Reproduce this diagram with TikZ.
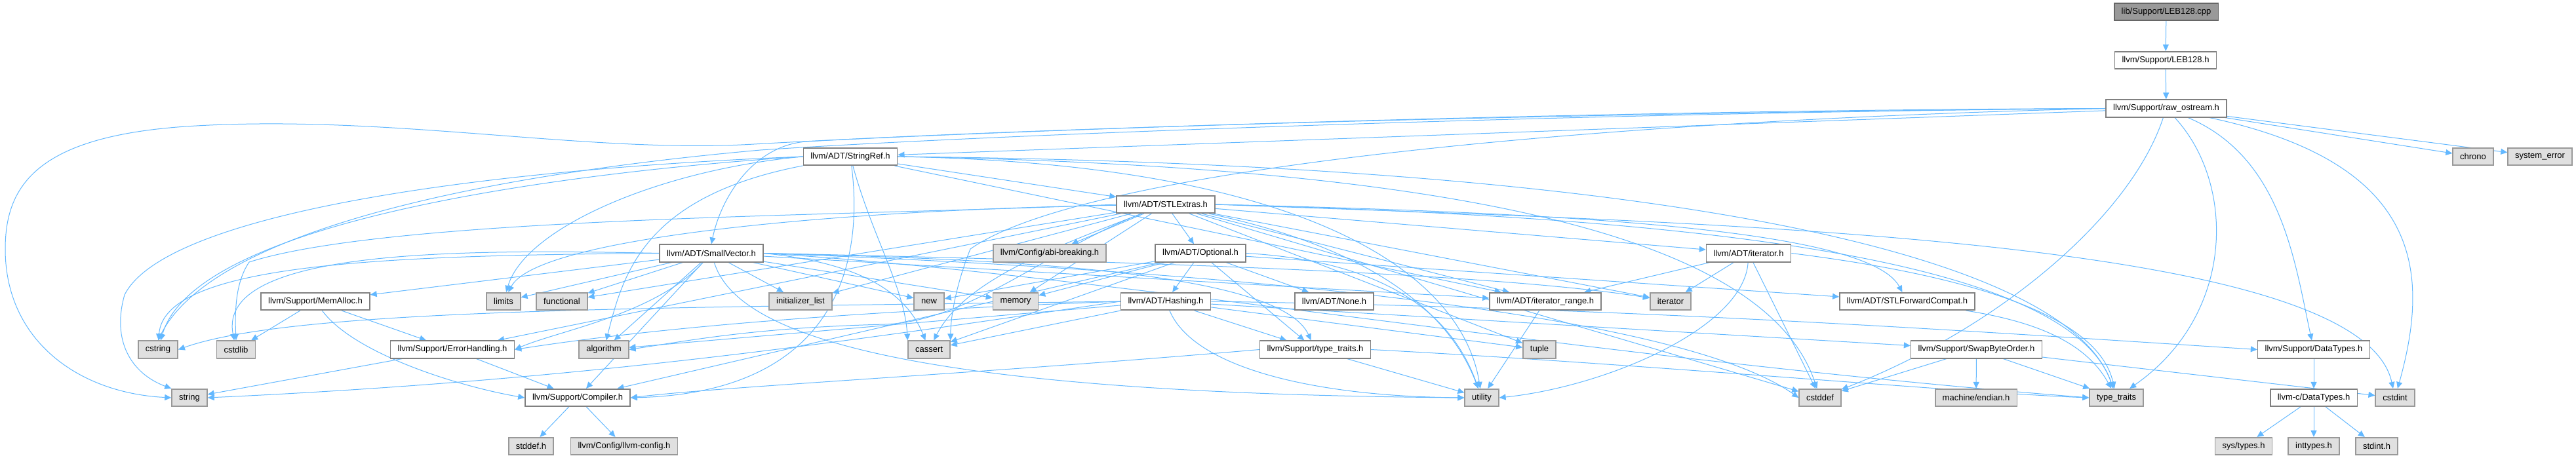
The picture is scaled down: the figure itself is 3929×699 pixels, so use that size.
\documentclass[tikz,border=0pt]{standalone}
\usepackage{fontspec}
\setmainfont{Liberation Sans}
\usepackage{tikz}
\usetikzlibrary{arrows.meta}
\definecolor{depblue}{HTML}{63B8FF}
\definecolor{hline}{HTML}{808080}
\definecolor{sysfill}{HTML}{E0E0E0}
\definecolor{sysline}{HTML}{999999}
\definecolor{mainfill}{HTML}{999999}
\definecolor{mainline}{HTML}{666666}
\pgfdeclarelayer{bg}
\pgfsetlayers{bg,main}

\begin{document}
\begin{tikzpicture}[
    x=0.5pt, y=-0.5pt,
    hbox/.style={draw=hline, fill=white, line width=0.8pt, minimum height=13.25pt,
                 inner xsep=5.5pt, inner ysep=0pt, font=\fontsize{6.5pt}{8pt}\selectfont},
    sysbox/.style={hbox, draw=sysline, fill=sysfill},
    mainbox/.style={hbox, draw=mainline, fill=mainfill},
    dep/.style={-{Triangle[length=5pt,width=4.5pt]}, depblue, line width=0.5pt}
  ]
    \useasboundingbox (0,0) rectangle (3929,699);

    \node[mainbox] (cpp) at (3304,18) {lib/Support/LEB128.cpp};
    \node[hbox] (lebh) at (3303,92) {llvm/Support/LEB128.h};
    \node[hbox] (raw) at (3304,165.5) {llvm/Support/raw\_ostream.h};
    \node[sysbox] (chrono) at (3772,239) {chrono};
    \node[sysbox] (syserr) at (3874,239) {system\_error};
    \node[hbox] (strref) at (1297,239) {llvm/ADT/StringRef.h};
    \node[hbox] (stlext) at (1778,312) {llvm/ADT/STLExtras.h};
    \node[hbox] (smallvec) at (1085,386.5) {llvm/ADT/SmallVector.h};
    \node[sysbox] (abi) at (1601,386.5) {llvm/Config/abi-breaking.h};
    \node[hbox] (optional) at (1831,386.5) {llvm/ADT/Optional.h};
    \node[hbox] (iterh) at (2667,386.5) {llvm/ADT/iterator.h};
    \node[hbox] (memalloc) at (481,460) {llvm/Support/MemAlloc.h};
    \node[sysbox] (limits) at (768,460) {limits};
    \node[sysbox] (functional) at (857,460) {functional};
    \node[sysbox] (initlist) at (1221,460) {initializer\_list};
    \node[sysbox] (new) at (1417,460) {new};
    \node[sysbox] (memory) at (1549,460) {memory};
    \node[hbox] (hashing) at (1778,460) {llvm/ADT/Hashing.h};
    \node[hbox] (none) at (2035,460) {llvm/ADT/None.h};
    \node[hbox] (itrange) at (2357,460) {llvm/ADT/iterator\_range.h};
    \node[sysbox] (iterator) at (2548,460) {iterator};
    \node[hbox] (stlfwd) at (2909,460) {llvm/ADT/STLForwardCompat.h};
    \node[sysbox] (cstring) at (241,533.5) {cstring};
    \node[sysbox] (cstdlib) at (360,533.5) {cstdlib};
    \node[hbox] (errh) at (690,533.5) {llvm/Support/ErrorHandling.h};
    \node[sysbox] (algorithm) at (921,533.5) {algorithm};
    \node[sysbox] (cassert) at (1417,533.5) {cassert};
    \node[hbox] (ttraitsh) at (2006,533.5) {llvm/Support/type\_traits.h};
    \node[sysbox] (tuple) at (2348,533.5) {tuple};
    \node[hbox] (swapbo) at (3014.5,533.5) {llvm/Support/SwapByteOrder.h};
    \node[hbox] (dtypes) at (3529,533.5) {llvm/Support/DataTypes.h};
    \node[sysbox] (string) at (289,607) {string};
    \node[hbox] (compiler) at (881,607) {llvm/Support/Compiler.h};
    \node[sysbox] (utility) at (2260,607) {utility};
    \node[sysbox] (cstddef) at (2776,607) {cstddef};
    \node[sysbox] (endian) at (3014,607) {machine/endian.h};
    \node[sysbox] (ttraits) at (3228,607) {type\_traits};
    \node[hbox] (cdtypes) at (3529,607) {llvm-c/DataTypes.h};
    \node[sysbox] (cstdint) at (3653,607) {cstdint};
    \node[sysbox] (stddefh) at (810,681) {stddef.h};
    \node[sysbox] (llvmcfg) at (952,681) {llvm/Config/llvm-config.h};
    \node[sysbox] (systypes) at (3422,681) {sys/types.h};
    \node[sysbox] (inttypes) at (3529,681) {inttypes.h};
    \node[sysbox] (stdinth) at (3625,681) {stdint.h};

    \begin{pgfonlayer}{bg}
    \draw[dep] (cpp)--(lebh); \draw[dep] (lebh)--(raw);
    \draw[dep] (raw)--(chrono); \draw[dep] (raw)--(syserr); \draw[dep] (raw)--(strref);
    \draw[dep] (raw.west) .. controls (2400,172) and (1600,195) .. (1230,216) .. controls (1150,222) and (1100,300) .. (smallvec.north);
    \draw[dep] (raw.west) .. controls (2400,168) and (1500,200) .. (1150,220) .. controls (900,235) and (600,175) .. (300,192)
               .. controls (60,205) and (8,280) .. (8,380) .. controls (8,520) and (120,600) .. (string.west);
    \draw[dep] (raw.west) .. controls (2400,172) and (1500,206) .. (1160,229) .. controls (700,270) and (320,360) .. (cstring.north);
    \draw[dep] (raw.west) .. controls (2400,185) and (1650,260) .. (1480,380) .. controls (1460,430) and (1450,480) .. (cassert.north east);
    \draw[dep] (raw) .. controls (3480,240) and (3500,400) .. (dtypes);
    \draw[dep] (raw) .. controls (3700,250) and (3705,420) .. (cstdint);
    \draw[dep] (raw) .. controls (3410,280) and (3410,480) .. (ttraits);
    \draw[dep] (raw) .. controls (3250,330) and (3050,500) .. (cstddef);

    \draw[dep] (strref)--(stlext); \draw[dep] (strref)--(itrange);
    \draw[dep] (strref) .. controls (1320,420) and (1260,600) .. (compiler.east);
    \draw[dep] (strref) .. controls (980,300) and (950,420) .. (algorithm);
    \draw[dep] (strref) .. controls (1330,360) and (1380,440) .. (cassert.north west);
    \draw[dep] (strref.east) .. controls (2300,255) and (2700,380) .. (cstddef);
    \draw[dep] (strref.east) .. controls (2500,250) and (3150,380) .. (ttraits);
    \draw[dep] (strref.east) .. controls (2000,250) and (2230,420) .. (utility);
    \draw[dep] (strref.west) .. controls (900,260) and (300,330) .. (cstring);
    \draw[dep] (strref.west) .. controls (1000,260) and (800,350) .. (limits);
    \draw[dep] (strref.west) .. controls (700,260) and (250,330) .. (190,450) .. controls (170,520) and (200,570) .. (string.north west);

    \draw[dep] (stlext)--(optional); \draw[dep] (stlext)--(abi); \draw[dep] (stlext)--(iterh);
    \draw[dep] (stlext)--(itrange); \draw[dep] (stlext)--(errh); \draw[dep] (stlext)--(functional);
    \draw[dep] (stlext)--(initlist); \draw[dep] (stlext)--(iterator); \draw[dep] (stlext)--(memory);
    \draw[dep] (stlext)--(tuple); \draw[dep] (stlext)--(cstddef);
    \draw[dep] (stlext.east) .. controls (2400,325) and (2850,350) .. (stlfwd);
    \draw[dep] (stlext) .. controls (1600,380) and (1480,490) .. (1350,495) .. controls (1150,500) and (1050,520) .. (algorithm.east);
    \draw[dep] (stlext.east) .. controls (2600,340) and (3600,360) .. (cstdint);
    \draw[dep] (stlext.west) .. controls (1300,330) and (600,330) .. (380,400) .. controls (360,430) and (358,470) .. (cstdlib.north);
    \draw[dep] (stlext) .. controls (1300,320) and (820,360) .. (limits);
    \draw[dep] (stlext.east) .. controls (2500,330) and (3150,380) .. (ttraits);
    \draw[dep] (stlext) .. controls (2050,370) and (2200,450) .. (utility);
    \draw[dep] (stlext) .. controls (1600,380) and (1470,430) .. (cassert);

    \draw[dep] (optional)--(hashing); \draw[dep] (optional)--(none); \draw[dep] (optional)--(stlfwd);
    \draw[dep] (optional)--(compiler); \draw[dep] (optional)--(ttraitsh); \draw[dep] (optional)--(cassert);
    \draw[dep] (optional)--(memory); \draw[dep] (optional)--(new);
    \draw[dep] (optional.east) .. controls (2050,395) and (2200,440) .. (utility);

    \draw[dep] (hashing)--(swapbo); \draw[dep] (hashing)--(ttraitsh); \draw[dep] (hashing)--(algorithm);
    \draw[dep] (hashing)--(cassert); \draw[dep] (hashing)--(tuple);
    \draw[dep] (hashing.east) .. controls (2500,470) and (3000,505) .. (dtypes.west);
    \draw[dep] (hashing.west) .. controls (1300,475) and (1000,500) .. (errh.east);
    \draw[dep] (hashing.west) .. controls (1000,470) and (450,470) .. (cstring.east);
    \draw[dep] (hashing.west) .. controls (1300,520) and (900,580) .. (string.east);
    \draw[dep] (hashing) .. controls (1820,560) and (2000,605) .. (utility.west);

    \draw[dep] (itrange)--(utility);
    \draw[dep] (iterh)--(itrange); \draw[dep] (iterh)--(iterator); \draw[dep] (iterh)--(cstddef);
    \draw[dep] (iterh.east) .. controls (3000,420) and (3200,480) .. (ttraits);
    \draw[dep] (iterh) .. controls (2660,500) and (2450,590) .. (utility.east);
    \draw[dep] (stlfwd) .. controls (3100,490) and (3180,520) .. (ttraits);

    \draw[dep] (smallvec)--(itrange); \draw[dep] (smallvec)--(compiler); \draw[dep] (smallvec)--(memalloc);
    \draw[dep] (smallvec)--(algorithm); \draw[dep] (smallvec)--(functional); \draw[dep] (smallvec)--(initlist);
    \draw[dep] (smallvec)--(limits); \draw[dep] (smallvec)--(memory); \draw[dep] (smallvec)--(new);
    \draw[dep] (smallvec) .. controls (1000,480) and (850,505) .. (errh.east);
    \draw[dep] (smallvec.east) .. controls (1500,395) and (1950,410) .. (ttraitsh);
    \draw[dep] (smallvec.east) .. controls (1300,400) and (1380,440) .. (cassert);
    \draw[dep] (smallvec.east) .. controls (1800,410) and (2550,470) .. (cstddef.west);
    \draw[dep] (smallvec.west) .. controls (700,380) and (330,380) .. (cstdlib);
    \draw[dep] (smallvec.west) .. controls (600,390) and (250,400) .. (cstring);
    \draw[dep] (smallvec.east) .. controls (1800,400) and (2300,420) .. (iterator);
    \draw[dep] (smallvec.east) .. controls (1700,420) and (2400,545) .. (ttraits.west);
    \draw[dep] (smallvec) .. controls (1120,500) and (1330,600) .. (utility.west);

    \draw[dep] (memalloc)--(errh); \draw[dep] (memalloc)--(cstdlib);
    \draw[dep] (memalloc) .. controls (540,540) and (700,590) .. (compiler.west);
    \draw[dep] (errh)--(compiler); \draw[dep] (errh)--(string);
    \draw[dep] (compiler)--(stddefh); \draw[dep] (compiler)--(llvmcfg);
    \draw[dep] (ttraitsh)--(utility);
    \draw[dep] (ttraitsh.west) .. controls (1500,570) and (1100,590) .. (compiler.east);
    \draw[dep] (ttraitsh.east) .. controls (2500,555) and (3000,600) .. (ttraits.west);
    \draw[dep] (swapbo)--(cstddef); \draw[dep] (swapbo)--(endian);
    \draw[dep] (swapbo)--(ttraits); \draw[dep] (swapbo)--(cstdint);
    \draw[dep] (dtypes)--(cdtypes);
    \draw[dep] (cdtypes)--(systypes); \draw[dep] (cdtypes)--(inttypes); \draw[dep] (cdtypes)--(stdinth);
    \end{pgfonlayer}
  \end{tikzpicture}
\end{document}
